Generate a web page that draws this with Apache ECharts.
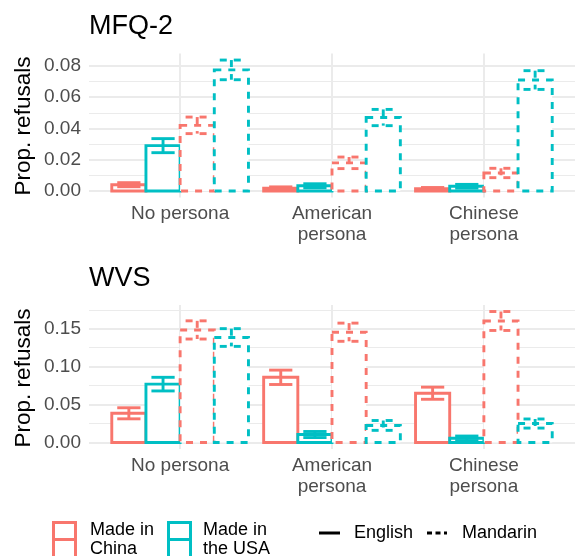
<!DOCTYPE html>
<html><head><meta charset="utf-8">
<script src="https://cdn.jsdelivr.net/npm/echarts@6/dist/echarts.min.js"></script>
<style>html,body{margin:0;padding:0;background:#fff}#c{width:576px;height:556px}</style>
</head><body><div id="c"></div>
<script>
// ---- data ----
const categories = ['No persona', 'American\npersona', 'Chinese\npersona'];
const groupNames = ['Made in China / English', 'Made in the USA / English', 'Made in China / Mandarin', 'Made in the USA / Mandarin'];
const groupColors = ['#F8766D', '#00BFC4', '#F8766D', '#00BFC4'];
const groupDashed = [false, false, true, true];

// MFQ-2 panel
const mfqChinaEnglish     = [0.0040, 0.0018, 0.0015];
const mfqChinaEnglishErr  = [0.0013, 0.0008, 0.0007];
const mfqUsaEnglish       = [0.0290, 0.0033, 0.0030];
const mfqUsaEnglishErr    = [0.0045, 0.0013, 0.0012];
const mfqChinaMandarin    = [0.0420, 0.0180, 0.0115];
const mfqChinaMandarinErr = [0.0053, 0.0037, 0.0030];
const mfqUsaMandarin      = [0.0775, 0.0470, 0.0710];
const mfqUsaMandarinErr   = [0.0063, 0.0052, 0.0060];

// WVS panel
const wvsChinaEnglish     = [0.0385, 0.0860, 0.0650];
const wvsChinaEnglishErr  = [0.0073, 0.0095, 0.0080];
const wvsUsaEnglish       = [0.0770, 0.0105, 0.0055];
const wvsUsaEnglishErr    = [0.0090, 0.0040, 0.0030];
const wvsChinaMandarin    = [0.1485, 0.1455, 0.1603];
const wvsChinaMandarinErr = [0.0120, 0.0120, 0.0125];
const wvsUsaMandarin      = [0.1385, 0.0225, 0.0250];
const wvsUsaMandarinErr   = [0.0117, 0.0065, 0.0060];

// ticks
const mfqTicks = [0, 0.02, 0.04, 0.06, 0.08];
const mfqMinorTicks = [0.01, 0.03, 0.05, 0.07];
const wvsTicks = [0, 0.05, 0.10, 0.15];
const wvsMinorTicks = [0.025, 0.075, 0.125, 0.175];
const catPositions = [0, 1, 2];

// ---- chart ----
const FONT = '"Liberation Sans", Arial, Helvetica, sans-serif';
const GRID_COLOR = '#EBEBEB';
const LW = 2.9;
const chart = echarts.init(document.getElementById('c'), null, {renderer: 'canvas'});

function makeRender(g) {
  const color = groupColors[g];
  const dash = groupDashed[g] ? [7, 7] : null;
  return function (params, api) {
    const cat = api.value(0), v = api.value(1), e = api.value(2);
    const unit = 0.225;
    const bw = api.size([unit, 0], [cat, v])[0];
    const cx = api.coord([cat + (g - 1.5) * unit, 0])[0];
    const y0 = api.coord([cat, 0])[1];
    const yv = api.coord([cat, v])[1];
    const yl = api.coord([cat, v - e])[1];
    const yu = api.coord([cat, v + e])[1];
    const cw = bw * 0.68;
    const st = {fill: 'none', stroke: color, lineWidth: LW, lineDash: dash};
    return {
      type: 'group',
      children: [
        {type: 'rect', shape: {x: cx - bw / 2, y: yv, width: bw, height: y0 - yv},
         style: {fill: '#fff', stroke: color, lineWidth: LW, lineDash: dash}},
        {type: 'line', shape: {x1: cx, y1: yu, x2: cx, y2: yl}, style: st},
        {type: 'line', shape: {x1: cx - cw / 2, y1: yu, x2: cx + cw / 2, y2: yu}, style: st},
        {type: 'line', shape: {x1: cx - cw / 2, y1: yl, x2: cx + cw / 2, y2: yl}, style: st}
      ]
    };
  };
}

function toData(vals, errs) {
  return vals.map((v, i) => [catPositions[i], v, errs[i]]);
}

const panels = [
  {vals: [mfqChinaEnglish, mfqUsaEnglish, mfqChinaMandarin, mfqUsaMandarin],
   errs: [mfqChinaEnglishErr, mfqUsaEnglishErr, mfqChinaMandarinErr, mfqUsaMandarinErr]},
  {vals: [wvsChinaEnglish, wvsUsaEnglish, wvsChinaMandarin, wvsUsaMandarin],
   errs: [wvsChinaEnglishErr, wvsUsaEnglishErr, wvsChinaMandarinErr, wvsUsaMandarinErr]}
];

const xAxisBase = (gi) => ({
  type: 'value', gridIndex: gi, min: -0.6, max: 2.6,
  axisLine: {show: false, onZero: false},
  axisTick: {show: false, customValues: catPositions},
  axisLabel: {
    customValues: catPositions,
    formatter: (v) => categories[Math.round(v)],
    margin: 6, fontSize: 19, lineHeight: 21, color: '#4D4D4D', fontFamily: FONT, align: 'center'
  },
  splitLine: {show: true, lineStyle: {color: GRID_COLOR, width: 2}}
});

const yMain = (gi, min, max, ticks) => ({
  type: 'value', gridIndex: gi, min: min, max: max, position: 'left',
  axisLine: {show: false},
  axisTick: {show: false, customValues: ticks},
  axisLabel: {customValues: ticks, formatter: (v) => v.toFixed(2), margin: 8,
    fontSize: 19, color: '#4D4D4D', fontFamily: FONT},
  splitLine: {show: true, lineStyle: {color: GRID_COLOR, width: 2}}
});
const yMinor = (gi, min, max, ticks) => ({
  type: 'value', gridIndex: gi, min: min, max: max, position: 'left', offset: 0,
  axisLine: {show: false},
  axisTick: {show: false, customValues: ticks},
  axisLabel: {show: false, customValues: ticks},
  splitLine: {show: true, lineStyle: {color: GRID_COLOR, width: 1.1}}
});

const series = [];
panels.forEach((p, pi) => {
  for (let g = 0; g < 4; g++) {
    series.push({
      type: 'custom', name: groupNames[g],
      xAxisIndex: pi, yAxisIndex: pi * 2,
      renderItem: makeRender(g),
      encode: {x: 0, y: 1},
      data: toData(p.vals[g], p.errs[g]),
      silent: true, animation: false
    });
  }
});

const txt = (text, x, y, size, extra) => ({
  type: 'text', x: x, y: y,
  style: Object.assign({text: text, fontSize: size, fontFamily: FONT, fill: '#000',
    align: 'left', verticalAlign: 'middle', textAlign: 'left', textVerticalAlign: 'middle'}, extra || {})
});

const graphics = [
  txt('MFQ-2', 89, 27, 27),
  txt('WVS', 89, 279, 27),
  Object.assign(txt('Prop. refusals', 23.5, 126, 22.5, {align: 'center', textAlign: 'center'}), {rotation: Math.PI / 2}),
  Object.assign(txt('Prop. refusals', 23.5, 378, 22.5, {align: 'center', textAlign: 'center'}), {rotation: Math.PI / 2}),
  // legend: colour keys
  {type: 'rect', shape: {x: 53.5, y: 522.5, width: 22, height: 36}, style: {fill: '#fff', stroke: '#F8766D', lineWidth: 3}},
  {type: 'line', shape: {x1: 53.5, y1: 539.5, x2: 75.5, y2: 539.5}, style: {stroke: '#F8766D', lineWidth: 3}},
  txt('Made in', 90, 530, 18),
  txt('China', 90, 549, 18),
  {type: 'rect', shape: {x: 168.5, y: 522.5, width: 22, height: 36}, style: {fill: '#fff', stroke: '#00BFC4', lineWidth: 3}},
  {type: 'line', shape: {x1: 168.5, y1: 539.5, x2: 190.5, y2: 539.5}, style: {stroke: '#00BFC4', lineWidth: 3}},
  txt('Made in', 203, 530, 18),
  txt('the USA', 203, 549, 18),
  // legend: linetype keys
  {type: 'line', shape: {x1: 319, y1: 533, x2: 340, y2: 533}, style: {stroke: '#000', lineWidth: 3}},
  txt('English', 354, 533.5, 18),
  {type: 'line', shape: {x1: 427, y1: 533, x2: 447, y2: 533}, style: {stroke: '#000', lineWidth: 3, lineDash: [5, 3.5]}},
  txt('Mandarin', 462, 533.5, 18)
];

chart.setOption({
  animation: false,
  backgroundColor: '#fff',
  textStyle: {fontFamily: FONT},
  grid: [
    {left: 89, right: 1, top: 53.5, height: 144},
    {left: 89, right: 1, top: 305, height: 144}
  ],
  xAxis: [xAxisBase(0), xAxisBase(1)],
  yAxis: [
    yMain(0, -0.0042, 0.088, mfqTicks), yMinor(0, -0.0042, 0.088, mfqMinorTicks),
    yMain(1, -0.0086, 0.1814, wvsTicks), yMinor(1, -0.0086, 0.1814, wvsMinorTicks)
  ],
  series: series,
  graphic: graphics
});
</script>
</body></html>
